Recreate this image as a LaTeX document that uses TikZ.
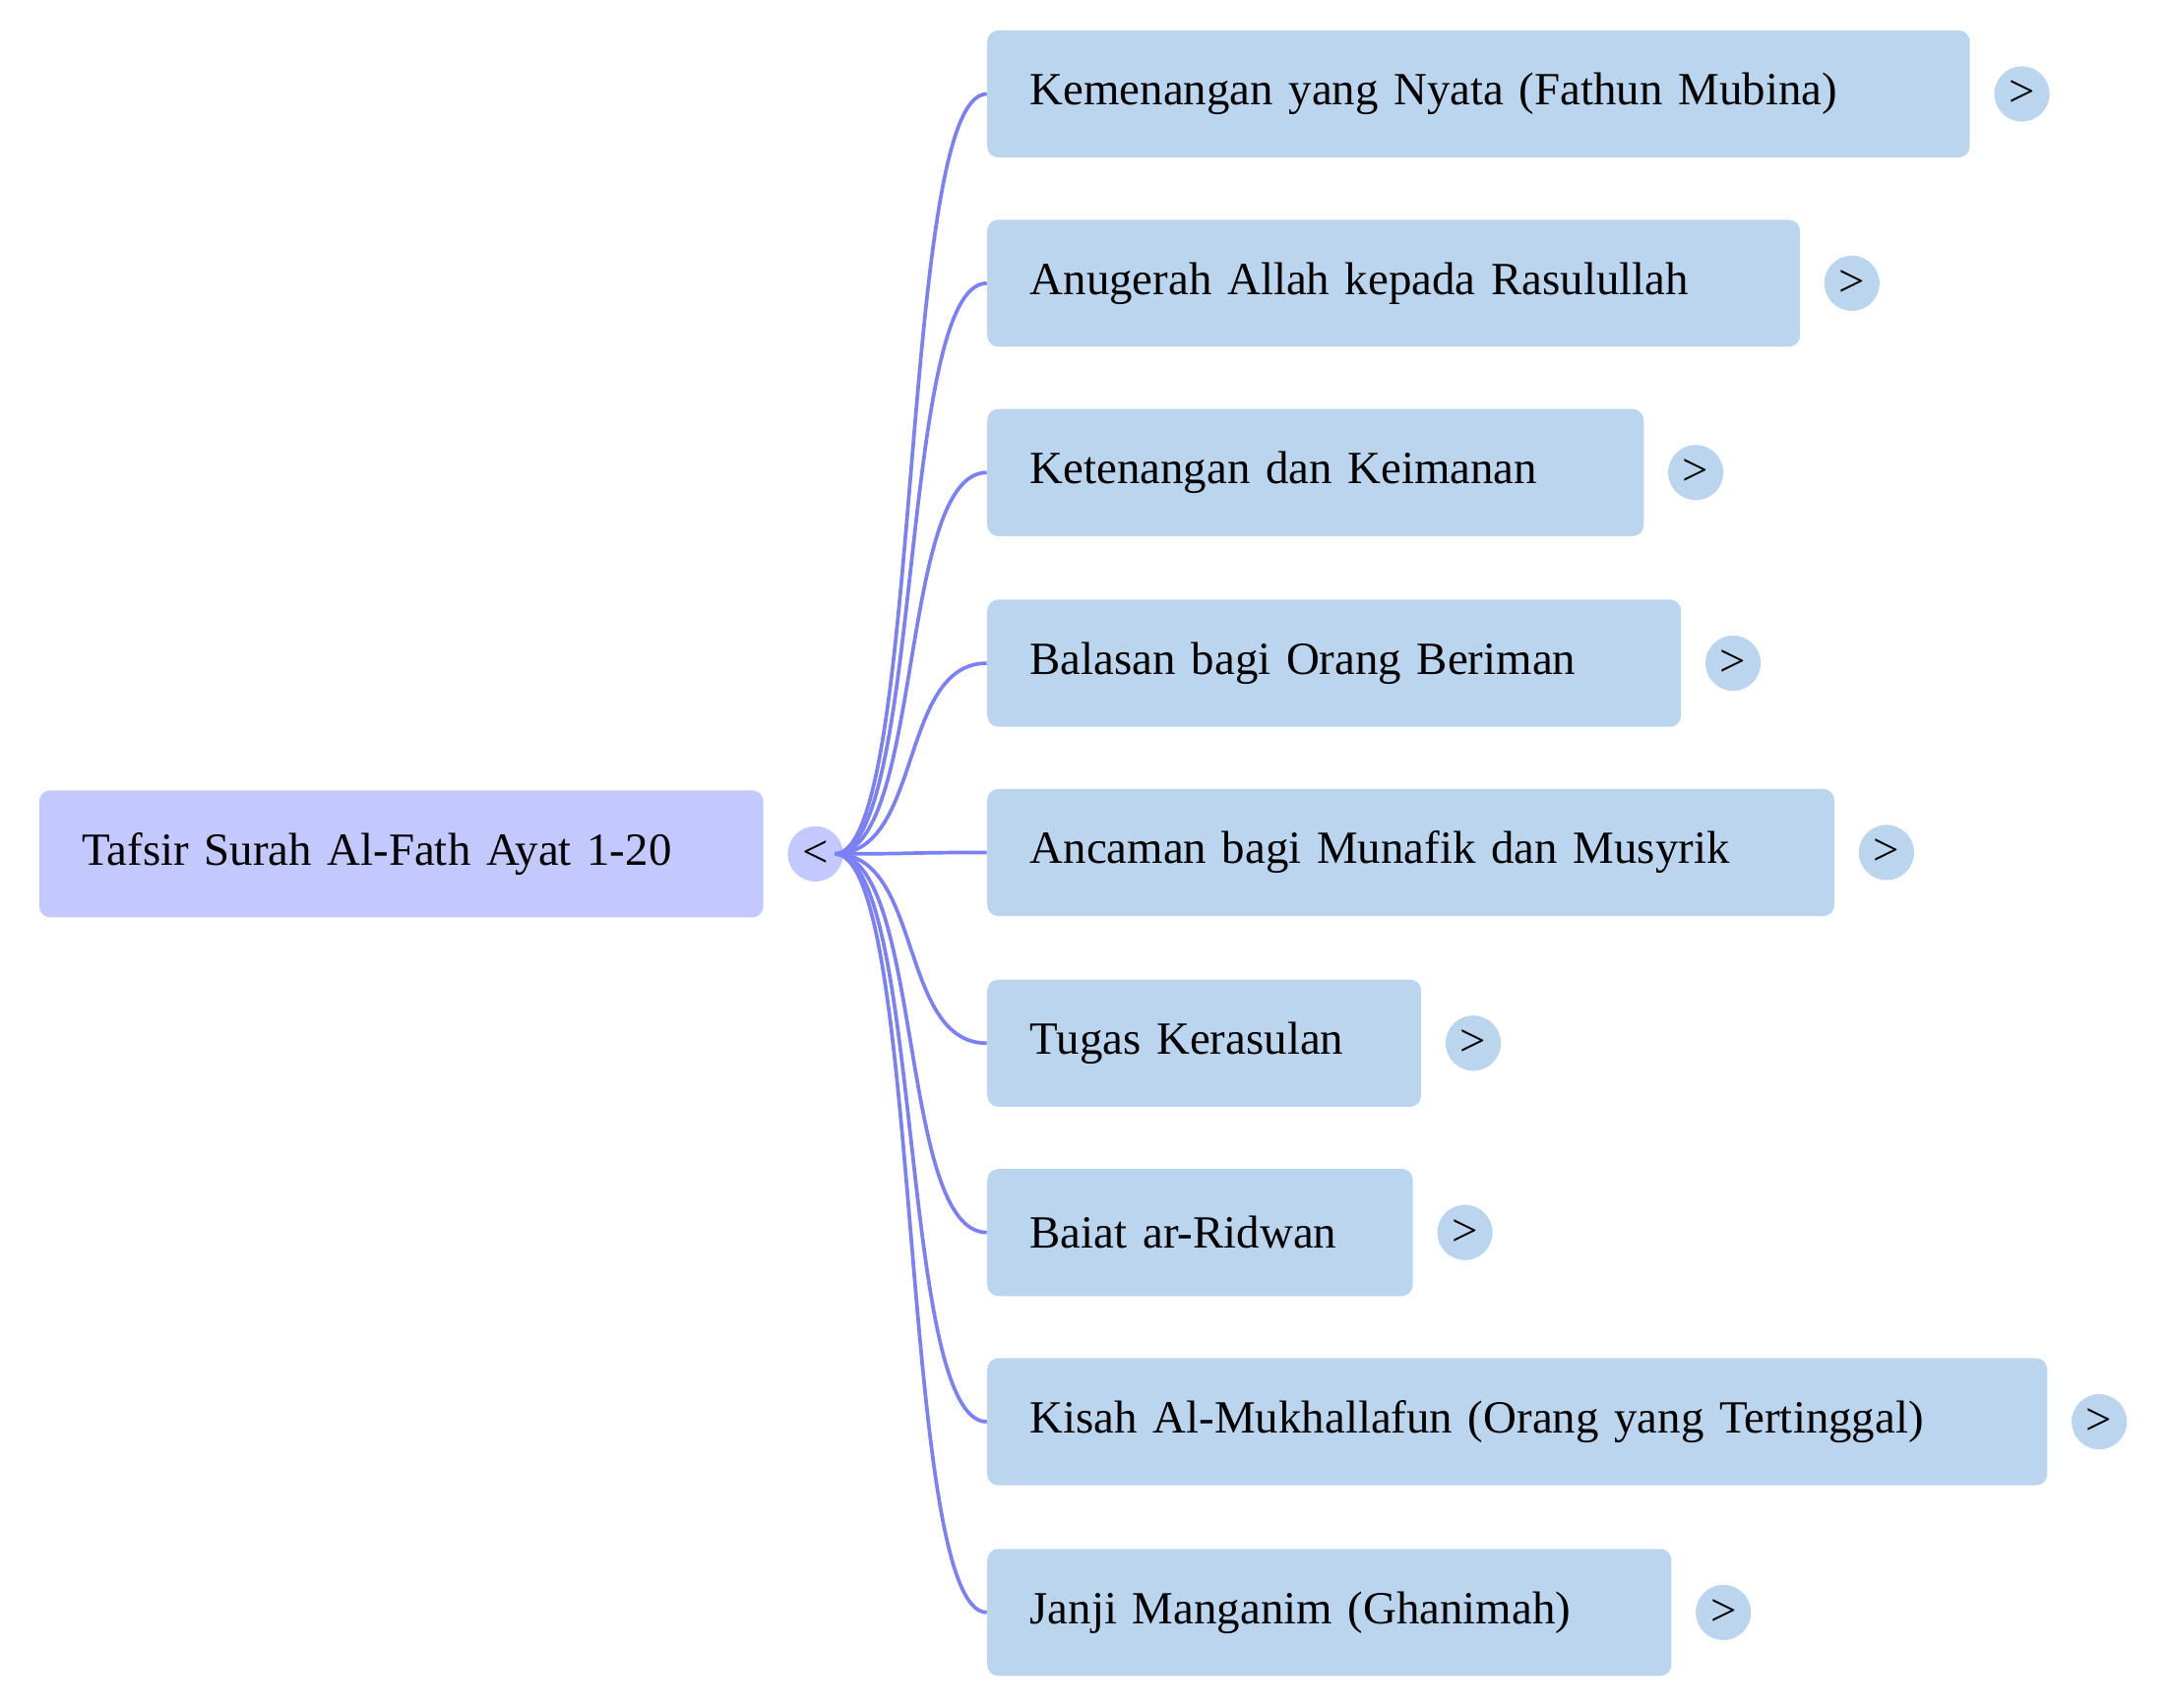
\documentclass[tikz,border=0pt]{standalone}
\usepackage{fontspec}
\setmainfont{Liberation Serif}
\definecolor{rootfill}{HTML}{C3C9FF}
\definecolor{kidfill}{HTML}{BBD5EF}
\definecolor{edgeblue}{HTML}{7B80F7}
\tikzset{
  box/.style={rounded corners=0.16cm, draw=none, minimum height=1.84cm,
    inner xsep=0.62cm, anchor=west, font=\fontsize{19}{21}\selectfont},
  tog/.style={circle, minimum size=0.8cm, inner sep=0pt, font=\fontsize{19}{21}\selectfont},
  link/.style={draw=edgeblue, line width=1.5pt}
}
\begin{document}
\begin{tikzpicture}[x=0.02cm,y=-0.02cm]
  \useasboundingbox (0,0) rectangle (1568,1236);
  % root
  \node[box, fill=rootfill, text width=524*0.02cm-1.24cm] (root) at (28,618) {Tafsir Surah Al-Fath Ayat 1-20};
  \node[tog, fill=rootfill] (rt) at (590,618) {<};
  \coordinate (hub) at (604,618);
  % children
  \foreach \i/\y/\r/\txt in {
    1/68/1425/Kemenangan yang Nyata (Fathun Mubina),
    2/205/1302/Anugerah Allah kepada Rasulullah,
    3/342/1189/Ketenangan dan Keimanan,
    4/480/1216/Balasan bagi Orang Beriman,
    5/617/1327/Ancaman bagi Munafik dan Musyrik,
    6/755/1028/Tugas Kerasulan,
    7/892/1022/Baiat ar-Ridwan,
    8/1029/1481/Kisah Al-Mukhallafun (Orang yang Tertinggal),
    9/1167/1209/Janji Manganim (Ghanimah)} {
    \node[box, fill=kidfill, text width=(\r-714)*0.02cm-1.24cm] (c\i) at (714,\y) {\txt};
    \node[tog, fill=kidfill] (t\i) at (\r+38,\y) {>};
    \draw[link] (hub) .. controls (668,618) and (650,\y) .. (c\i.west);
  }
\end{tikzpicture}
\end{document}
